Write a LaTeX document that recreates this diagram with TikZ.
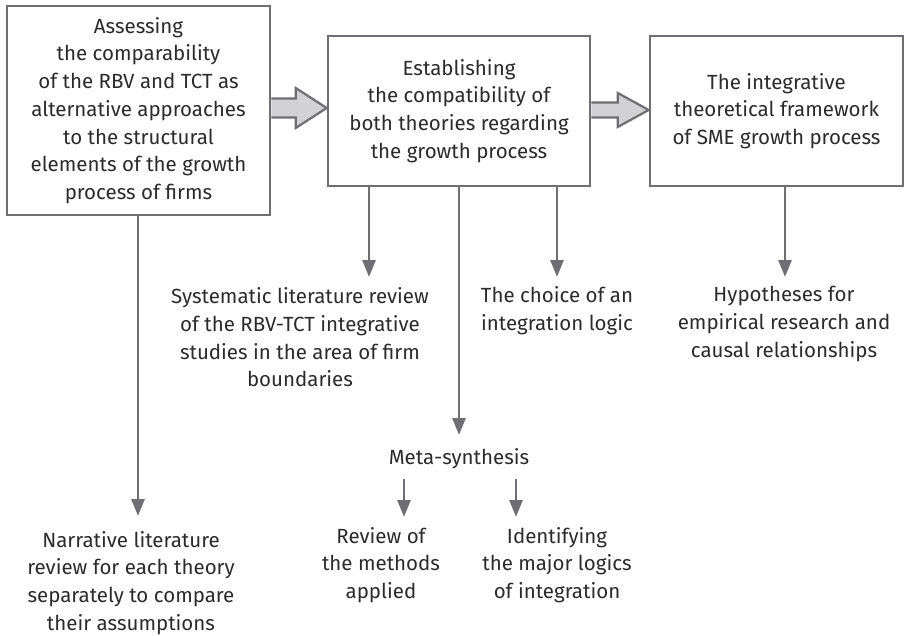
\documentclass[tikz,border=0pt]{standalone}
\usepackage{fontspec}
\setmainfont{Fira Sans}
\usetikzlibrary{arrows.meta,calc}
\definecolor{linegray}{HTML}{6E6E73}
\definecolor{fillgray}{HTML}{D2D2D4}
\definecolor{txt}{HTML}{2B2B2B}
\begin{document}
\begin{tikzpicture}[x=1pt,y=-1pt,
  every node/.style={font=\fontsize{20.5}{27.7}\selectfont, text=txt, align=center, inner sep=0pt},
  mainbox/.style={draw=linegray, line width=2.6pt, fill=white},
  blockarrow/.style={draw=linegray, fill=fillgray, line width=2.2pt, line join=miter},
  downarrow/.style={draw=linegray, line width=2.8pt, -{Triangle[width=13pt,length=17pt]}}]
\useasboundingbox (0,0) rectangle (909,636);
% boxes
\node[mainbox, minimum width=263pt, minimum height=209pt] (b1) at (138.5,110.5)
  {Assessing\\the comparability\\of the RBV and TCT as\\alternative approaches\\to the structural\\elements of the growth\\process of firms};
\node[mainbox, minimum width=262pt, minimum height=150pt] (b2) at (459,111)
  {Establishing\\the compatibility of\\both theories regarding\\the growth process};
\node[mainbox, minimum width=253pt, minimum height=150pt] (b3) at (776.5,111)
  {The integrative\\theoretical framework\\of SME growth process};
% block arrows
\coordinate (a1s) at (b1.east |- 0,108);
\coordinate (a1e) at (b2.west |- 0,108);
\coordinate (a2s) at (b2.east |- 0,110);
\coordinate (a2e) at (b3.west |- 0,110);
\draw[blockarrow] ($(a1s)+(0,-9.5)$) -- ($(a1e)+(-31,-9.5)$) -- ($(a1e)+(-31,-20)$) -- (a1e)
  -- ($(a1e)+(-31,20)$) -- ($(a1e)+(-31,9.5)$) -- ($(a1s)+(0,9.5)$);
\draw[blockarrow] ($(a2s)+(0,-7.5)$) -- ($(a2e)+(-31,-7.5)$) -- ($(a2e)+(-31,-17)$) -- (a2e)
  -- ($(a2e)+(-31,17)$) -- ($(a2e)+(-31,7.5)$) -- ($(a2s)+(0,7.5)$);
% text nodes
\node (narr) at (131,583) {\fontsize{20.5}{26}\selectfont Narrative literature\\review for each theory\\separately to compare\\their assumptions};
\node (sys) at (300,337.5) {Systematic literature review\\of the RBV-TCT integrative\\studies in the area of firm\\boundaries};
\node (choice) at (557,310.5) {The choice of an\\integration logic};
\node (hyp) at (784,324) {Hypotheses for\\empirical research and\\causal relationships};
\node (meta) at (459,459) {Meta-synthesis};
\node (rev) at (381,565) {Review of\\the methods\\applied};
\node (ident) at (557,565) {Identifying\\the major logics\\of integration};
% arrow end points
\coordinate (tnarr) at (138,516);
\coordinate (tsys) at (369,277);
\coordinate (tmeta) at (459,435);
\coordinate (tchoice) at (557,277);
\coordinate (thyp) at (785,277);
\coordinate (srev) at (404,479);
\coordinate (trev) at (404,517);
\coordinate (sident) at (516,479);
\coordinate (tident) at (516,517);
% down arrows
\draw[downarrow] (b1.south -| tnarr) -- (tnarr);
\draw[downarrow] (b2.south -| tsys) -- (tsys);
\draw[downarrow] (b2.south -| tmeta) -- (tmeta);
\draw[downarrow] (b2.south -| tchoice) -- (tchoice);
\draw[downarrow] (b3.south -| thyp) -- (thyp);
\draw[downarrow] (srev) -- (trev);
\draw[downarrow] (sident) -- (tident);
\end{tikzpicture}
\end{document}
